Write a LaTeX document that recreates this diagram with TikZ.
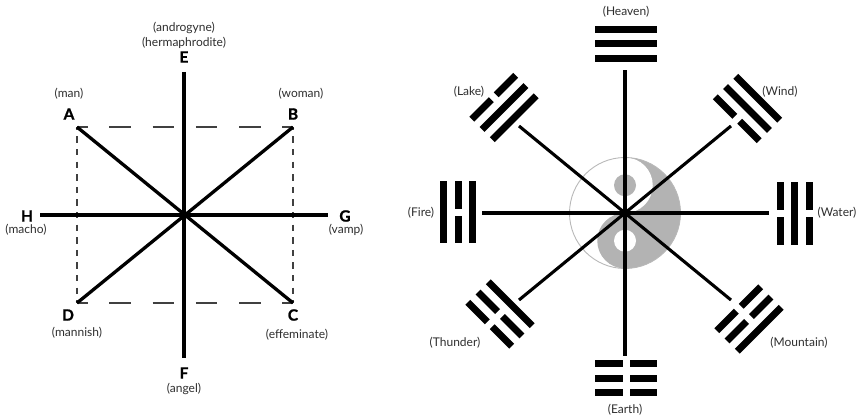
\documentclass[tikz,border=0pt]{standalone}
\usepackage{fontspec}
\setmainfont{Lato}
\newfontfamily\heavyfont{Lato}[BoldFeatures={FakeBold=1.2}]
\definecolor{labelgray}{HTML}{2E2E2E}
\definecolor{yygray}{HTML}{B3B3B3}
\definecolor{yyline}{HTML}{B8B8B8}
\newcommand\tgline[2]{%
  \ifnum#2=1
    \fill (-31,#1-3.5) rectangle (31,#1+3.5);
  \else
    \fill (-31,#1-3.5) rectangle (-3.5,#1+3.5);
    \fill (3.5,#1-3.5) rectangle (31,#1+3.5);
  \fi}
\newcommand\trigram[6]{%
  \begin{scope}[shift={(#1,#2)},rotate=#3]
    \tgline{14.5}{#4}\tgline{0}{#5}\tgline{-14.5}{#6}
  \end{scope}}
\begin{document}
\begin{tikzpicture}[x=1pt,y=-1pt,
  lbl/.style={inner sep=0pt,text=labelgray,font=\fontsize{12}{14}\selectfont},
  letter/.style={inner sep=0pt,text=black,font=\heavyfont\fontsize{15.5}{17}\selectfont\bfseries},
  axis/.style={line width=3.3pt,black},
  raxis/.style={line width=3.1pt,black},
  hdash/.style={line width=1.3pt,black!75,dash pattern=on 21.6pt off 21.6pt,dash phase=10.8pt},
  vdash/.style={line width=1.3pt,black!75,dash pattern=on 6.3pt off 6.3pt,dash phase=3.15pt}]
\useasboundingbox (0,0) rectangle (857,417);
% ---------- left diagram ----------
\coordinate (O1) at (184,215);
\coordinate (pA) at (77,127);
\coordinate (pB) at (293,127);
\coordinate (pC) at (293,303);
\coordinate (pD) at (77,303);
\coordinate (pE) at (184,72);
\coordinate (pF) at (184,358);
\coordinate (pG) at (328,215);
\coordinate (pH) at (40,215);
\draw[hdash] (pA) -- (pB);
\draw[hdash] (pD) -- (pC);
\draw[vdash] (pA) -- (pD);
\draw[vdash] (pB) -- (pC);
\draw[axis] (pE) -- (pF);
\draw[axis] (pH) -- (pG);
\draw[axis] (pA) -- (pC);
\draw[axis] (pB) -- (pD);
\node[lbl] (tandro) at (184,28) {(androgyne)};
\node[lbl] (therm) at (184,43) {(hermaphrodite)};
\node[letter] (lE) at (184,57) {E};
\node[lbl] (tman) at (69,94) {(man)};
\node[letter] (lA) at (69,114) {A};
\node[lbl] (twoman) at (301,94) {(woman)};
\node[letter] (lB) at (293,114) {B};
\node[letter] (lH) at (27,216) {H};
\node[lbl] (tmacho) at (26,230) {(macho)};
\node[letter] (lG) at (345,216) {G};
\node[lbl] (tvamp) at (346,230) {(vamp)};
\node[letter] (lD) at (68,315) {D};
\node[lbl] (tmann) at (77,333) {(mannish)};
\node[letter] (lC) at (293,315) {C};
\node[lbl] (teff) at (297,335) {(effeminate)};
\node[letter] (lF) at (184,373) {F};
\node[lbl] (tangel) at (184,389) {(angel)};
% ---------- right diagram ----------
\coordinate (O2) at (625,213);
% yin-yang
\begin{scope}
  \clip (625,150) rectangle (690,280);
  \fill[yygray] (O2) circle[radius=55.5pt];
\end{scope}
\fill[yygray] (625,240.75) circle[radius=27.75pt];
\fill[white] (625,185.25) circle[radius=27.75pt];
\fill[yygray] (625,185.25) circle[radius=11pt];
\fill[white] (625,240.75) circle[radius=11pt];
\draw[yyline,line width=0.9pt] (O2) circle[radius=55.5pt];
% spokes
\coordinate (rN) at (625,70);
\coordinate (rS) at (625,356);
\coordinate (rW) at (482,213);
\coordinate (rE) at (769,213);
\coordinate (rNW) at (519,126);
\coordinate (rNE) at (731,126);
\coordinate (rSW) at (519,300);
\coordinate (rSE) at (731,300);
\foreach \p in {rN,rS,rW,rE,rNW,rNE,rSW,rSE} \draw[raxis] (O2) -- (\p);
% trigrams: x y rot inner middle outer
\begin{scope}[black]
\trigram{626}{44}{0}{1}{1}{1}      % Heaven
\trigram{626}{378}{180}{0}{0}{0}   % Earth
\trigram{458}{212}{90}{1}{0}{1}    % Fire
\trigram{794.5}{213.5}{-90}{0}{1}{0} % Water
\trigram{504}{107.5}{45}{1}{1}{0}  % Lake
\trigram{747.5}{108.5}{-45}{0}{1}{1} % Wind
\trigram{500}{314}{135}{1}{0}{0}   % Thunder
\trigram{749}{319}{-135}{0}{0}{1}  % Mountain
\end{scope}
\node[lbl] (theaven) at (626,12) {(Heaven)};
\node[lbl] (tlake) at (469,92) {(Lake)};
\node[lbl] (twind) at (780,92) {(Wind)};
\node[lbl] (tfire) at (421,213) {(Fire)};
\node[lbl] (twater) at (837,213) {(Water)};
\node[lbl] (tthunder) at (455,343) {(Thunder)};
\node[lbl] (tmount) at (799,343) {(Mountain)};
\node[lbl] (tearth) at (625,410) {(Earth)};
\end{tikzpicture}
\end{document}
